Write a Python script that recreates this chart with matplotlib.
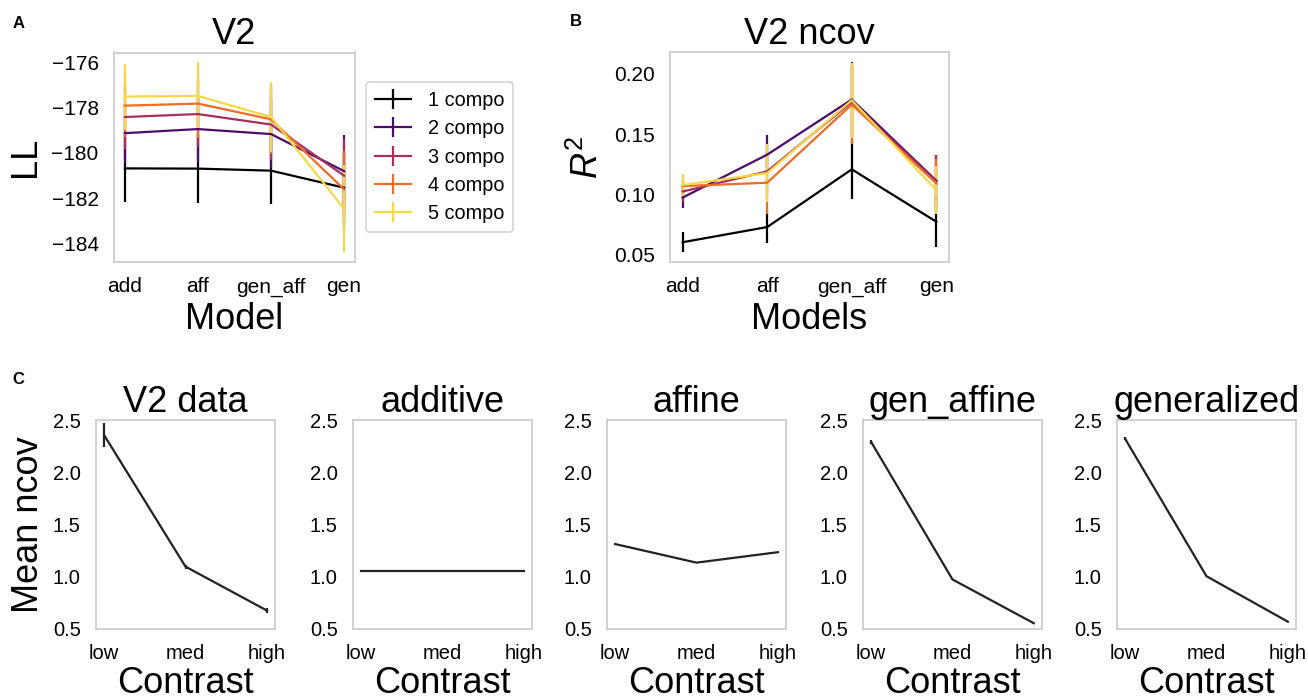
import numpy as np
import matplotlib
matplotlib.use("Agg")
import matplotlib.pyplot as plt

plt.rcParams['font.family'] = ['Liberation Sans', 'DejaVu Sans']
plt.rcParams['mathtext.fontset'] = 'custom'
plt.rcParams['mathtext.it'] = 'Liberation Sans:italic'
plt.rcParams['mathtext.rm'] = 'Liberation Sans'

# ---------------- data ----------------
models_A = ["add", "aff", "gen_aff", "gen"]
series_labels = ["1 compo", "2 compo", "3 compo", "4 compo", "5 compo"]

ll_means = [
    [-180.68, -180.69, -180.78, -181.53],
    [-179.13, -178.95, -179.17, -180.80],
    [-178.42, -178.29, -178.75, -181.00],
    [-177.92, -177.83, -178.52, -181.60],
    [-177.52, -177.49, -178.42, -182.45],
]
ll_errs = [
    [1.49, 1.50, 1.48, 1.50],
    [1.33, 1.45, 1.48, 1.60],
    [1.42, 1.45, 1.55, 1.60],
    [1.40, 1.50, 1.54, 1.70],
    [1.45, 1.49, 1.56, 1.93],
]

r2_means = [
    [0.0603, 0.0729, 0.1208, 0.0773],
    [0.0974, 0.1330, 0.1788, 0.1113],
    [0.1024, 0.1191, 0.1768, 0.1105],
    [0.1069, 0.1097, 0.1746, 0.1091],
    [0.1077, 0.1177, 0.1782, 0.1035],
]
r2_errs = [
    [0.0085, 0.0135, 0.0250, 0.0210],
    [0.0090, 0.0160, 0.0315, 0.0210],
    [0.0090, 0.0200, 0.0300, 0.0225],
    [0.0090, 0.0260, 0.0326, 0.0200],
    [0.0090, 0.0240, 0.0310, 0.0200],
]

contrast = ["low", "med", "high"]
c_titles = ["V2 data", "additive", "affine", "gen_affine", "generalized"]
c_means = [
    [2.355, 1.097, 0.677],
    [1.058, 1.058, 1.058],
    [1.313, 1.135, 1.235],
    [2.290, 0.974, 0.555],
    [2.320, 1.005, 0.570],
]
c_errs = [
    [0.115, 0.020, 0.020],
    [0.0, 0.0, 0.0],
    [0.0, 0.0, 0.0],
    [0.020, 0.0, 0.0],
    [0.015, 0.0, 0.0],
]

# ---------------- figure ----------------
W, H = 1308, 699
fig = plt.figure(figsize=(W / 100, H / 100), dpi=100)

def fr(l, t, r, b):
    return [l / W, 1 - b / H, (r - l) / W, (b - t) / H]

colors = plt.get_cmap('inferno')(np.linspace(0, 0.9, 5))
spine_c = '#cccccc'
BIG = 26

def style(ax, tick_fs):
    for s in ax.spines.values():
        s.set_color(spine_c)
        s.set_linewidth(1.25)
    ax.tick_params(length=0, pad=11, labelsize=tick_fs, colors='black')

# Panel A
axA = fig.add_axes(fr(114, 52.5, 355, 262))
x = np.arange(len(models_A))
for i in range(5):
    axA.errorbar(x, ll_means[i], yerr=ll_errs[i], color=colors[i], lw=1.6,
                 elinewidth=1.6, label=series_labels[i])
axA.set_xticks(x)
axA.set_xticklabels(models_A)
axA.set_yticks([-184, -182, -180, -178, -176])
style(axA, 15)
axA.set_title("V2", fontsize=BIG)
axA.set_xlabel("Model", fontsize=BIG)
axA.set_ylabel("LL", fontsize=BIG, labelpad=6)
leg = fig.legend(*axA.get_legend_handles_labels(), loc='upper left',
                 bbox_to_anchor=(366 / W, 1 - 82 / H), borderaxespad=0,
                 fontsize=14.3, frameon=True, fancybox=True,
                 handlelength=1.8, borderpad=0.45, labelspacing=0.47,
                 handletextpad=0.85)
leg.get_frame().set_edgecolor(spine_c)
leg.get_frame().set_linewidth(1.25)

# Panel B
axB = fig.add_axes(fr(670, 52, 949, 262))
for i in range(5):
    axB.errorbar(x, r2_means[i], yerr=r2_errs[i], color=colors[i], lw=1.6,
                 elinewidth=1.6)
axB.set_xticks(x)
axB.set_xticklabels(models_A)
axB.set_yticks([0.05, 0.10, 0.15, 0.20])
axB.set_yticklabels(["0.05", "0.10", "0.15", "0.20"])
style(axB, 15)
axB.set_title("V2 ncov", fontsize=BIG)
axB.set_xlabel("Models", fontsize=BIG)
axB.set_ylabel(r"$R^2$", fontsize=BIG, labelpad=6)

# Panel C
lefts = [96, 353, 607, 863, 1117]
xc = np.arange(len(contrast))
for k in range(5):
    ax = fig.add_axes(fr(lefts[k], 420, lefts[k] + 179, 629))
    ax.errorbar(xc, c_means[k], yerr=c_errs[k], color='#222222', lw=1.6,
                elinewidth=1.6)
    ax.set_ylim(0.5, 2.5)
    ax.set_yticks([0.5, 1.0, 1.5, 2.0, 2.5])
    ax.set_xticks(xc)
    ax.set_xticklabels(contrast)
    style(ax, 14.5)
    ax.set_title(c_titles[k], fontsize=BIG)
    ax.set_xlabel("Contrast", fontsize=BIG, labelpad=2)
    if k == 0:
        ax.set_ylabel("Mean ncov", fontsize=BIG, labelpad=5)

fig.text(13 / W, 1 - 23 / H, "A", fontsize=12, fontweight='bold', va='center')
fig.text(570 / W, 1 - 22 / H, "B", fontsize=12, fontweight='bold', va='center')
fig.text(12 / W, 1 - 380 / H, "C", fontsize=12, fontweight='bold', va='center')

fig.savefig("out.png", dpi=100)
